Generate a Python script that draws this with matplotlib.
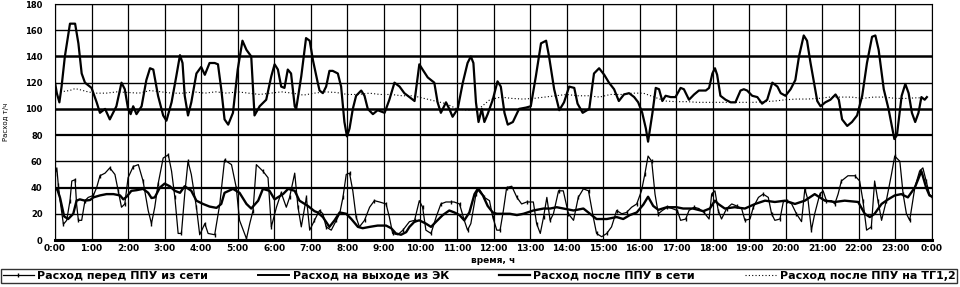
import matplotlib
matplotlib.use("Agg")
import matplotlib.pyplot as plt
from matplotlib.lines import Line2D

# ---------------- data (hours, t/h) ----------------
ek = [(0.00,120),(0.05,112),(0.12,105),(0.18,117),(0.27,140),(0.41,165),(0.55,165),(0.64,150),(0.73,127),(0.82,120),
      (1.00,116),(1.14,105),(1.23,97),(1.37,100),(1.50,92),(1.68,102),(1.82,120),(1.91,115),(2.00,100),(2.07,96),
      (2.14,102),(2.23,96),(2.37,102),(2.50,122),(2.60,131),(2.69,130),(2.82,110),(2.96,95),(3.05,91),(3.19,105),
      (3.32,125),(3.42,141),(3.49,135),(3.55,110),(3.64,95),(3.73,105),(3.87,127),(4.00,132),(4.10,126),(4.23,135),
      (4.37,135),(4.46,134),(4.55,115),(4.64,92),(4.74,88),(4.87,97),(5.00,130),(5.13,152),(5.24,145),(5.37,140),
      (5.46,95),(5.60,102),(5.78,107),(5.92,125),(6.01,134),(6.10,130),(6.19,117),(6.28,116),(6.37,130),(6.46,127),
      (6.56,102),(6.60,100),(6.74,125),(6.87,154),(6.97,152),(7.06,137),(7.19,120),(7.24,114),(7.33,112),(7.42,117),
      (7.51,129),(7.60,129),(7.74,127),(7.83,117),(7.92,90),(7.99,79),(8.06,85),(8.15,100),(8.24,110),(8.38,114),
      (8.47,110),(8.56,100),(8.70,96),(8.83,99),(9.02,97),(9.15,107),(9.29,120),(9.43,117),(9.56,112),(9.70,109),
      (9.84,106),(9.97,134),(10.06,130),(10.20,124),(10.38,120),(10.47,105),(10.56,97),(10.70,105),(10.79,100),
      (10.88,94),(11.02,100),(11.16,120),(11.29,135),(11.38,140),(11.45,135),(11.52,105),(11.59,90),(11.68,100),
      (11.75,90),(11.84,96),(11.98,107),(12.11,121),(12.20,117),(12.30,97),(12.39,88),(12.53,90),(12.70,100),
      (12.89,101),(13.02,102),(13.16,125),(13.30,150),(13.44,152),(13.52,140),(13.66,115),(13.80,99),(13.93,105),
      (14.07,117),(14.21,116),(14.30,104),(14.44,97),(14.62,100),(14.75,127),(14.89,131),(15.03,126),(15.16,120),
      (15.30,115),(15.43,106),(15.57,111),(15.71,112),(15.85,109),(15.96,105),(16.07,97),(16.17,85),(16.23,75),
      (16.35,97),(16.44,116),(16.53,115),(16.62,106),(16.71,110),(16.85,109),(16.98,109),(17.12,116),(17.21,115),
      (17.35,107),(17.49,111),(17.62,114),(17.81,114),(17.90,116),(17.99,127),(18.06,131),(18.12,126),(18.21,110),
      (18.35,107),(18.49,105),(18.62,105),(18.76,114),(18.85,115),(18.94,114),(19.08,110),(19.22,109),(19.35,104),
      (19.49,107),(19.63,120),(19.77,117),(19.86,112),(19.99,110),(20.13,115),(20.26,122),(20.36,140),(20.49,156),
      (20.58,152),(20.67,136),(20.77,120),(20.86,106),(20.95,102),(21.08,105),(21.22,107),(21.36,111),(21.45,107),
      (21.54,92),(21.68,87),(21.81,90),(21.95,95),(22.09,110),(22.22,135),(22.36,155),(22.45,156),(22.54,145),
      (22.68,115),(22.81,100),(22.97,77),(23.04,80),(23.17,110),(23.27,119),(23.36,112),(23.45,97),(23.54,90),
      (23.63,97),(23.71,109),(23.80,107),(23.86,109)]

tg_t = [0.15,0.4,0.55,0.7,0.9,1.1,1.4,1.7,2.0,2.3,2.6,2.9,3.2,3.5,3.8,4.1,4.4,4.7,5.0,5.3,5.6,5.9,6.2,6.5,6.8,
        7.1,7.4,7.7,8.0,8.3,8.6,8.9,9.2,9.5,9.8,10.1,10.4,10.7,11.0,11.3,11.6,11.9,12.2,12.5,12.8,13.1,13.4,13.7,
        14.0,14.3,14.6,14.9,15.2,15.5,15.8,16.1,16.4,16.7,17.0,17.3,17.6,17.9,18.2,18.5,18.8,19.1,19.4,19.7,20.0,
        20.3,20.6,20.9,21.2,21.5,21.8,22.1,22.4,22.7,23.0,23.3,23.6,23.9]
tg_v = [113,114,115.5,114.5,113,112,112,113,112.5,112,114,113,112,112,113,112,113,112,113,112,111,112,113,112,110.5,
        112,113,112.5,111,111,112,111,111,110,110,108,106,104,100,99,100,107,109,108,107.5,108,109,110,111,110,
        110,109,111,111,112,112,109,106,105.5,105.5,105,105,105,105,105,105,105.5,106,107,107.5,107.5,108,109,109,
        109,108,109,109,108,108,108.5,108]

before = [(0.00,50),(0.05,55),(0.09,42),(0.14,30),(0.23,12),(0.32,15),(0.41,30),(0.46,45),(0.55,46),(0.59,27.5),
          (0.64,15),(0.73,15),(0.82,30),(0.91,32.5),(1.05,34),(1.14,40),(1.23,49),(1.37,51),(1.50,55),(1.64,50),
          (1.73,37.5),(1.82,25),(1.91,27.5),(2.00,47.5),(2.14,56),(2.28,57.5),(2.41,45),(2.55,22.5),(2.64,12.5),
          (2.73,25),(2.82,42.5),(2.96,62.5),(3.10,65),(3.19,52.5),(3.28,32.5),(3.37,5),(3.46,5),(3.55,35),(3.64,60),
          (3.73,50),(3.87,25),(3.96,4),(4.10,12.5),(4.19,5),(4.37,4),(4.51,27.5),(4.64,61),(4.83,57.5),(4.96,40),
          (5.05,15),(5.24,1),(5.33,12.5),(5.42,22.5),(5.51,57.5),(5.69,52.5),(5.83,47.5),(5.92,10),(6.06,25),
          (6.19,36),(6.33,25),(6.42,32.5),(6.56,51),(6.65,25),(6.74,10),(6.88,32.5),(6.97,7.5),(7.10,15),(7.19,20),
          (7.24,22.5),(7.33,20),(7.42,10),(7.56,7.5),(7.70,15),(7.79,20),(7.88,32.5),(7.97,50),(8.06,51),(8.15,37.5),
          (8.24,17.5),(8.33,10),(8.47,15),(8.61,25),(8.74,30),(8.88,29),(9.06,27.5),(9.15,17.5),(9.24,5),(9.38,4),
          (9.52,7.5),(9.70,14),(9.84,15),(9.97,30),(10.06,25),(10.15,7.5),(10.29,5),(10.43,17.5),(10.56,27.5),
          (10.70,29),(10.83,29),(10.92,29),(11.07,27.5),(11.20,15),(11.29,7.5),(11.38,12.5),(11.52,35),(11.61,39),
          (11.75,32.5),(11.89,30),(11.98,17.5),(12.09,7.5),(12.18,7.5),(12.27,22.5),(12.36,40),(12.50,41),
          (12.64,32.5),(12.77,27.5),(12.91,29),(13.09,29),(13.18,12.5),(13.28,5),(13.37,17.5),(13.46,32.5),
          (13.55,15),(13.64,20),(13.78,37.5),(13.91,37.5),(14.05,20),(14.19,15),(14.32,32.5),(14.46,39),(14.60,37.5),
          (14.73,17.5),(14.82,5),(14.96,2.5),(15.10,5),(15.23,10),(15.37,22.5),(15.51,20),(15.64,21),(15.78,25),
          (15.92,27.5),(16.05,37.5),(16.14,50),(16.23,64),(16.33,60),(16.42,35),(16.51,20),(16.62,22.5),(16.76,25),
          (16.89,24),(17.03,22.5),(17.12,15),(17.26,16),(17.35,22.5),(17.49,25),(17.62,24),(17.76,21),(17.90,16),
          (17.97,35),(18.06,37.5),(18.15,22.5),(18.24,16),(18.38,24),(18.52,27.5),(18.65,26),(18.79,24),(18.88,15),
          (19.02,16),(19.11,25),(19.25,32.5),(19.38,35),(19.52,32.5),(19.61,20),(19.70,15),(19.84,16),(19.93,29),
          (20.02,30),(20.16,27.5),(20.29,20),(20.43,14),(20.52,39),(20.61,30),(20.70,7.5),(20.79,20),(20.93,35),
          (21.02,37.5),(21.11,30),(21.25,30),(21.34,27.5),(21.43,35),(21.52,45),(21.70,49),(21.89,49),(22.02,45),
          (22.11,30),(22.21,7.5),(22.34,10),(22.43,45),(22.52,30),(22.62,15),(22.75,30),(22.89,50),(22.98,64),
          (23.12,60),(23.21,35),(23.30,20),(23.39,15),(23.53,40),(23.66,52.5),(23.75,55),(23.84,45),(23.93,35),
          (24.0,33)]

after = [(0.00,40),(0.07,38),(0.14,32),(0.25,18),(0.36,16),(0.50,20),(0.59,30),(0.68,31),(0.82,30),(0.96,30.5),
         (1.05,32.5),(1.23,34),(1.41,35),(1.60,35),(1.78,34),(1.87,31),(1.96,33),(2.09,37.5),(2.23,38),(2.41,39),
         (2.55,36),(2.64,32),(2.73,32.5),(2.87,40),(3.00,43),(3.14,41),(3.28,37.5),(3.42,36),(3.55,41),(3.73,37.5),
         (3.87,30),(4.05,27.5),(4.23,25.5),(4.42,24.5),(4.55,27.5),(4.64,36),(4.87,39),(5.05,36),(5.24,27.5),
         (5.37,24),(5.56,30),(5.69,39),(5.87,37.5),(6.01,31),(6.24,35),(6.38,39),(6.56,37.5),(6.69,30),(6.92,26),
         (7.10,22),(7.19,21),(7.33,17.5),(7.51,10),(7.65,15),(7.79,21),(7.97,20),(8.11,16),(8.29,10),(8.42,9),
         (8.61,10),(8.83,11),(9.06,11),(9.20,9),(9.33,5),(9.47,4),(9.61,6),(9.70,10),(9.84,14),(9.97,15),
         (10.15,12.5),(10.29,10),(10.43,14),(10.61,19),(10.79,22.5),(10.93,21),(11.07,19),(11.20,15),(11.34,21),
         (11.48,35),(11.57,39),(11.71,34),(11.84,26),(11.98,21),(12.09,20),(12.27,20),(12.45,20),(12.64,19),
         (12.82,20),(13.09,22.5),(13.37,24),(13.55,24),(13.73,25),(13.91,24),(14.19,22.5),(14.46,24),(14.64,20),
         (14.82,16),(15.10,16),(15.37,17.5),(15.55,16),(15.73,19),(15.92,21),(16.10,27),(16.23,33),(16.37,26),
         (16.51,23),(16.74,25),(17.01,25),(17.19,24),(17.46,24),(17.74,22),(17.92,24),(18.06,30),(18.15,27.5),
         (18.33,24),(18.60,25),(18.88,24),(19.16,27.5),(19.43,30),(19.70,29),(19.98,30),(20.25,27.5),(20.52,30),
         (20.79,35),(21.07,30),(21.34,29),(21.61,30),(21.98,29),(22.16,20),(22.30,17.5),(22.43,20),(22.62,27.5),
         (22.80,31),(22.98,34),(23.16,35),(23.34,32.5),(23.53,40),(23.71,52.5),(23.84,40),(23.93,34),(24.0,33)]

x_labels = ["0:00","1:00","2:00","3:00","4:00","5:00","6:00","7:00","8:00","9:00","10:00","11:00","12:00",
            "13:00","14:00","15:00","16:00","17:00","18:00","19:00","20:00","21:00","22:00","23:00","0:00"]
y_ticks = [0, 20, 40, 60, 80, 100, 120, 140, 160, 180]
legend_labels = ["Расход перед ППУ из сети", "Расход на выходе из ЭК",
                 "Расход после ППУ в сети", "Расход после ППУ на ТГ1,2"]

# ---------------- figure ----------------
plt.rcParams['font.family'] = ['DejaVu Sans']
fig = plt.figure(figsize=(9.6, 2.87), dpi=100)
ax = fig.add_axes([55/960, 47/287, 877/960, 236/287])

# grid
for h in range(25):
    ax.axvline(h, color='black', lw=0.9, zorder=1)
thick = {0: 2.2, 40: 1.6, 80: 1.6, 100: 1.8, 140: 1.8}
for v in y_ticks:
    ax.axhline(v, color='black', lw=thick.get(v, 1.0), zorder=1)

def unz(pairs):
    return [p[0] for p in pairs], [p[1] for p in pairs]

t, v = unz(ek)
ax.plot(t, v, color='black', lw=1.6, zorder=4)
ax.plot(tg_t, tg_v, color='black', lw=0.8, ls=(0, (1, 2)), zorder=3)
t, v = unz(after)
ax.plot(t, v, color='black', lw=1.7, zorder=3)
t, v = unz(before)
ax.plot(t, v, color='black', lw=0.9, marker='|', markersize=3.5, markevery=2, zorder=5)

ax.set_xlim(0, 24)
ax.set_ylim(0, 180)
ax.set_xticks(range(25))
ax.set_xticklabels(x_labels, fontsize=6.5, fontweight='bold')
ax.set_yticks(y_ticks)
ax.set_yticklabels([str(y) for y in y_ticks], fontsize=6, fontweight='bold')
ax.tick_params(axis='both', length=0)
ax.tick_params(axis='x', pad=3)
ax.tick_params(axis='y', pad=9)
for s in ax.spines.values():
    s.set_linewidth(0.8)
ax.spines['bottom'].set_linewidth(2.2)

ax.set_xlabel("время, ч", fontsize=6.5, fontweight='bold', labelpad=2)
ax.set_ylabel("Расход т/ч", fontsize=5)
ax.yaxis.set_label_coords(-46/877, 0.5)

handles = [Line2D([], [], color='black', lw=0.9, marker='|', markersize=3.5, markevery=[1]),
           Line2D([], [], color='black', lw=1.4),
           Line2D([], [], color='black', lw=1.6),
           Line2D([], [], color='black', lw=0.8, ls=(0, (1, 2)))]
leg = fig.legend(handles, legend_labels, loc='center', ncol=4, mode='expand',
                 bbox_to_anchor=(1/960, 2/287, 956/960, 18/287),
                 prop={'size': 8, 'weight': 'bold'}, frameon=True, fancybox=False,
                 edgecolor='black', handlelength=2.8, handletextpad=0.3,
                 borderpad=0.15, borderaxespad=0, columnspacing=1.0)
leg.get_frame().set_linewidth(1.0)

fig.savefig("out.png", dpi=100)
